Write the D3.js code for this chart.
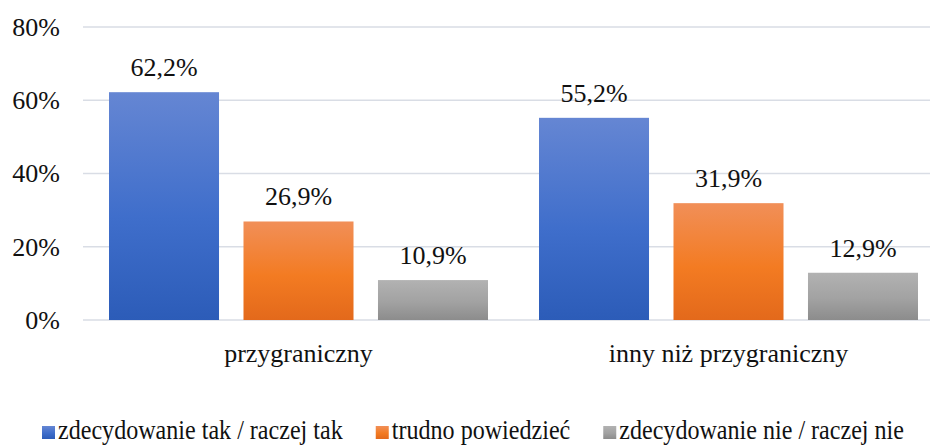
<!DOCTYPE html>
<html>
<head>
<meta charset="utf-8">
<script src="https://cdn.jsdelivr.net/npm/d3@7"></script>
<style>
  text { font-family: "Liberation Serif", serif !important; }
</style>
</head>
<body style="margin:0">
<script>
const categories = ["przygraniczny", "inny niż przygraniczny"];
const series = ["zdecydowanie tak / raczej tak", "trudno powiedzieć", "zdecydowanie nie / raczej nie"];
const values = [
  [62.2, 26.9, 10.9],
  [55.2, 31.9, 12.9]
];
const yTicks = [0, 20, 40, 60, 80];

const colors = [
  ["#6586d3", "#3f6ecb", "#2c5cb8"],
  ["#f18f58", "#f37b22", "#e3691b"],
  ["#b2b2b2", "#a2a2a2", "#8c8c8c"]
];

const FONT = "Liberation Serif";
const width = 930, height = 445;
const svg = d3.select("body").append("svg")
  .attr("width", width)
  .attr("height", height)
  .style("display", "block");

const defs = svg.append("defs");
colors.forEach((c, i) => {
  const g = defs.append("linearGradient")
    .attr("id", "grad" + i)
    .attr("x1", 0).attr("y1", 0).attr("x2", 0).attr("y2", 1);
  g.append("stop").attr("offset", "0%").attr("stop-color", c[0]);
  g.append("stop").attr("offset", "55%").attr("stop-color", c[1]);
  g.append("stop").attr("offset", "100%").attr("stop-color", c[2]);
});

const y = d3.scaleLinear().domain([0, 80]).range([320, 27]);
const x0 = d3.scaleBand().domain(categories).range([83.5, 943.5]);
const x1 = d3.scaleBand().domain(series).range([25.5, x0.bandwidth() - 25.5]).paddingInner(0.182);

// grid
svg.append("g").selectAll("line")
  .data(yTicks)
  .join("line")
  .attr("x1", 83).attr("x2", width)
  .attr("y1", d => y(d)).attr("y2", d => y(d))
  .attr("stroke", "#d9dde5")
  .attr("stroke-width", 1.5);

// y labels
svg.append("g").selectAll("text")
  .data(yTicks)
  .join("text")
  .attr("x", 60)
  .attr("y", d => y(d))
  .attr("dy", "0.34em")
  .attr("text-anchor", "end")
  .attr("font-size", 26)
  .attr("fill", "#111")
  .style("font-family", FONT)
  .text(d => d + "%");

// bars
const groups = svg.append("g").selectAll("g")
  .data(categories)
  .join("g")
  .attr("transform", d => `translate(${x0(d)},0)`);

groups.selectAll("rect")
  .data((d, ci) => series.map((s, si) => ({ s, si, v: values[ci][si] })))
  .join("rect")
  .attr("x", d => x1(d.s))
  .attr("width", x1.bandwidth())
  .attr("y", d => y(d.v))
  .attr("height", d => y(0) - y(d.v))
  .attr("fill", d => `url(#grad${d.si})`);

groups.selectAll("text.val")
  .data((d, ci) => series.map((s, si) => ({ s, si, v: values[ci][si] })))
  .join("text")
  .attr("class", "val")
  .attr("x", d => x1(d.s) + x1.bandwidth() / 2)
  .attr("y", d => y(d.v) - 16)
  .attr("text-anchor", "middle")
  .attr("font-size", 26)
  .attr("fill", "#111")
  .style("font-family", FONT)
  .text(d => d.v.toFixed(1).replace(".", ",") + "%");

// category labels
svg.append("g").selectAll("text")
  .data(categories)
  .join("text")
  .attr("x", d => x0(d) + 215)
  .attr("y", 362)
  .attr("text-anchor", "middle")
  .attr("font-size", 26)
  .attr("fill", "#111")
  .style("font-family", FONT)
  .text(d => d);

// legend
const legend = svg.append("g");
let lx = 42;
series.forEach((s, i) => {
  legend.append("rect")
    .attr("x", lx).attr("y", 426)
    .attr("width", 13).attr("height", 13)
    .attr("fill", `url(#grad${i})`);
  const t = legend.append("text")
    .attr("transform", `translate(${lx + 16},439) scale(0.86,1)`)
    .attr("font-size", 28)
    .attr("fill", "#111")
    .style("font-family", FONT)
    .text(s);
  const w = t.node().getComputedTextLength() * 0.86;
  lx += 16 + w + 33;
});
</script>
</body>
</html>
